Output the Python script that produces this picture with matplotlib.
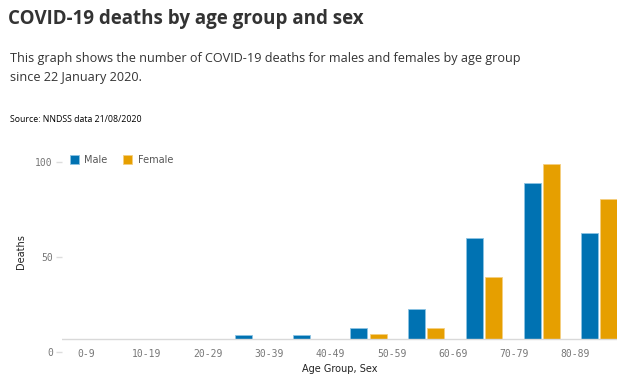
import numpy as np
import matplotlib
matplotlib.use("Agg")
import matplotlib.pyplot as plt

# data
groups = ['0-9', '10-19', '20-29', '30-39', '40-49', '50-59', '60-69', '70-79', '80-89', '90+']
male = [0, 0, 0, 2, 2, 6, 17, 57, 88, 60]
female = [0, 0, 0, 0, 0, 3, 6, 35, 99, 79]
tick_labels = groups[:9]

BLUE = '#0072B2'
ORANGE = '#E69F00'

W, H = 636, 379
fig = plt.figure(figsize=(W / 100, H / 100), dpi=100)

# axes placed in pixels: left 62, right 617, data 0 at y=339, 1.77 px per death
px_per = 1.77
ymin, ymax = -8, 107
top_px = 339 - ymax * px_per
bot_px = 339 - ymin * px_per
ax = fig.add_axes([62 / W, 1 - bot_px / H, (617 - 62) / W, (bot_px - top_px) / H])

x = np.arange(len(groups))
bw = 0.295
ax.bar(x - 0.165, male, bw, color=BLUE, edgecolor='#8cc3e3', linewidth=0.6, label='Male')
ax.bar(x + 0.165, female, bw, color=ORANGE, edgecolor='#f5cf80', linewidth=0.6, label='Female')
ax.axhline(0, color='#d9d9d9', linewidth=1)

ax.set_xlim((62 - 80) / 57.7, (617 - 80) / 57.7)
ax.set_ylim(ymin, ymax)

for s in ax.spines.values():
    s.set_visible(False)

# tick labels sit a little off the bars, as in the source
ax.set_xticks(np.arange(9) * 1.06 + 0.1)
ax.set_xticklabels(tick_labels, family='DejaVu Sans Mono', fontsize=7, color='#777777')
ax.tick_params(axis='x', length=0, pad=-2.8)

ax.set_yticks([100, 46.3, -7.3])
ax.set_yticklabels(['100', '50', '0'], family='DejaVu Sans Mono', fontsize=7, color='#777777')
ax.tick_params(axis='y', length=4.3, width=1, color='#dddddd', pad=2.2)

ax.set_ylabel('Deaths', fontsize=7, color='#222222', labelpad=7)
ax.set_xlabel('Age Group, Sex', fontsize=7, color='#222222', labelpad=3.5)

ax.legend(loc='upper left', bbox_to_anchor=(66 / W, 1 - 151 / H), bbox_transform=fig.transFigure,
          ncol=2, frameon=False, fontsize=7, handlelength=0.9, handleheight=0.9,
          columnspacing=1.6, handletextpad=0.6, labelcolor='#555555', borderaxespad=0)

fig.text(8 / W, 1 - 19 / H, 'COVID-19 deaths by age group and sex', family='Open Sans',
         fontweight='bold', fontsize=13.5, color='#333333', va='center')
fig.text(10 / W, 1 - 68 / H, 'This graph shows the number of COVID-19 deaths for males and females by age group\nsince 22 January 2020.',
         family='Open Sans', fontsize=9.1, color='#333333', va='center', linespacing=1.65)
fig.text(10 / W, 1 - 120 / H, 'Source: NNDSS data 21/08/2020', family='Open Sans', fontsize=6.3,
         color='#000000', va='center')

fig.savefig('out.png', dpi=100)
